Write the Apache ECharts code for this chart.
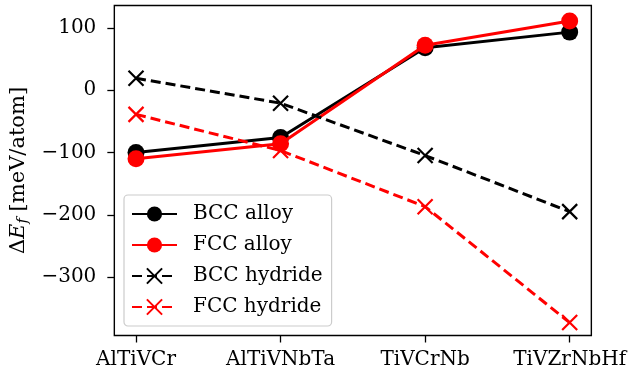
<!DOCTYPE html>
<html><head><meta charset="utf-8">
<script src="https://cdn.jsdelivr.net/npm/echarts@6/dist/echarts.min.js"></script>
<style>html,body{margin:0;padding:0;background:#fff}#c{width:629px;height:373px}</style>
</head><body><div id="c"></div>
<script>
const categories = ['AlTiVCr', 'AlTiVNbTa', 'TiVCrNb', 'TiVZrNbHf'];
const bccAlloy = [-100, -76, 68, 93];
const fccAlloy = [-110, -86, 72, 111];
const bccHydride = [19, -21, -105, -195];
const fccHydride = [-39, -97, -187, -373];
const yTicks = [-300, -200, -100, 0, 100];

const FONT = 'DejaVu Serif';
const FS = 20;
const cross = 'path://M0,0L10,10M10,0L0,10';
function pts(arr){ return arr.map((v,i)=>[i,v]); }

const chart = echarts.init(document.getElementById('c'), null, {renderer:'canvas'});
chart.setOption({
  animation:false,
  grid:{left:113, right:37, top:5.5, bottom:37.5, show:true, borderColor:'#000', borderWidth:1.4, backgroundColor:'transparent'},
  xAxis:{type:'value', min:-0.15, max:3.15,
    axisLine:{show:false, onZero:false}, splitLine:{show:false},
    axisTick:{show:true, length:7, lineStyle:{color:'#000', width:1.3}, customValues:[0,1,2,3]},
    axisLabel:{customValues:[0,1,2,3], formatter:v=>categories[Math.round(v)], color:'#000', fontFamily:FONT, fontSize:FS, margin:14}
  },
  yAxis:{type:'value', min:-393.7, max:135.7,
    axisLine:{show:false, onZero:false}, splitLine:{show:false},
    axisTick:{show:true, length:7, lineStyle:{color:'#000', width:1.3}, customValues:yTicks},
    axisLabel:{customValues:yTicks, formatter:v=>(v<0?'\u2212'+(-v):''+v), color:'#000', fontFamily:FONT, fontSize:FS, margin:18},
    name:'{a|\u0394}{i|E}{s|f}{a| [meV/atom]}', nameLocation:'middle', nameRotate:90, nameGap:83,
    nameTextStyle:{rich:{
      a:{fontFamily:FONT, fontSize:21, color:'#000'},
      i:{fontFamily:FONT, fontSize:21, fontStyle:'italic', color:'#000'},
      s:{fontFamily:FONT, fontSize:15, fontStyle:'italic', color:'#000', verticalAlign:'bottom', padding:[9,0,0,0]}
    }}
  },
  legend:{orient:'vertical', left:124, top:195, padding:[9,9,9,7], itemGap:11, itemWidth:45, itemHeight:19,
    backgroundColor:'#fff', borderColor:'#cccccc', borderWidth:1.2, borderRadius:4,
    textStyle:{fontFamily:FONT, fontSize:FS, color:'#000', lineHeight:19, padding:[0,0,0,11]},
    data:['BCC alloy','FCC alloy','BCC hydride','FCC hydride']
  },
  series:[
    {name:'BCC alloy', type:'line', data:pts(bccAlloy), symbol:'circle', symbolSize:17,
      itemStyle:{color:'#000'}, lineStyle:{color:'#000', width:3}, z:2},
    {name:'FCC alloy', type:'line', data:pts(fccAlloy), symbol:'circle', symbolSize:17,
      itemStyle:{color:'#ff0000'}, lineStyle:{color:'#ff0000', width:3}, z:3},
    {name:'BCC hydride', type:'line', data:pts(bccHydride), symbol:cross, symbolSize:15,
      itemStyle:{color:'#000', borderColor:'#000', borderWidth:2.2}, lineStyle:{color:'#000', width:3, type:[10,5]}, z:4},
    {name:'FCC hydride', type:'line', data:pts(fccHydride), symbol:cross, symbolSize:15,
      itemStyle:{color:'#ff0000', borderColor:'#ff0000', borderWidth:2.2}, lineStyle:{color:'#ff0000', width:3, type:[10,5]}, z:5}
  ]
});
</script></body></html>
